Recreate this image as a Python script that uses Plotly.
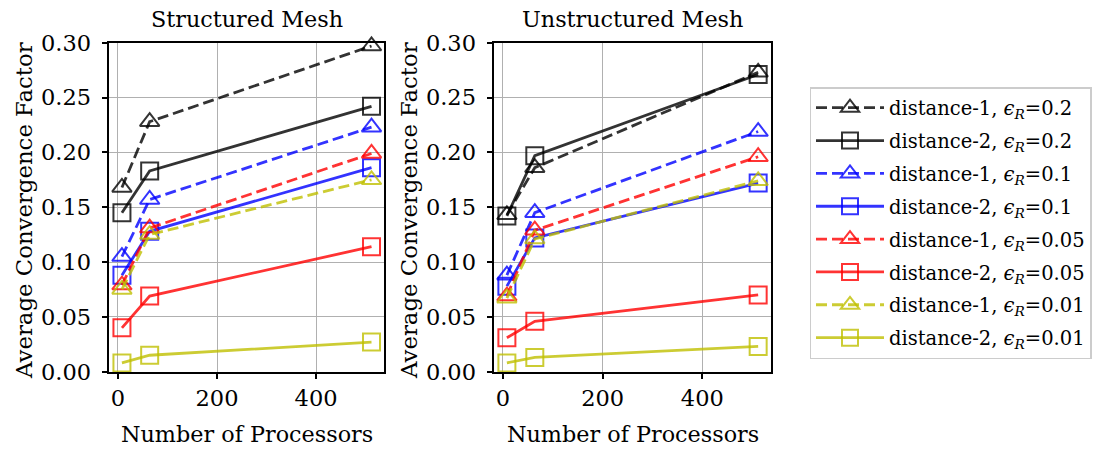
import plotly.graph_objects as go

# Processor counts (x) and average convergence factors per configuration
processors = [8, 64, 512]

labels = [
    "distance-1, <i>ϵ</i><sub><i>R</i></sub>=0.2",
    "distance-2, <i>ϵ</i><sub><i>R</i></sub>=0.2",
    "distance-1, <i>ϵ</i><sub><i>R</i></sub>=0.1",
    "distance-2, <i>ϵ</i><sub><i>R</i></sub>=0.1",
    "distance-1, <i>ϵ</i><sub><i>R</i></sub>=0.05",
    "distance-2, <i>ϵ</i><sub><i>R</i></sub>=0.05",
    "distance-1, <i>ϵ</i><sub><i>R</i></sub>=0.01",
    "distance-2, <i>ϵ</i><sub><i>R</i></sub>=0.01",
]

structured = [
    [0.168, 0.228, 0.297],
    [0.145, 0.183, 0.242],
    [0.105, 0.157, 0.223],
    [0.088, 0.128, 0.186],
    [0.079, 0.131, 0.199],
    [0.040, 0.069, 0.114],
    [0.075, 0.125, 0.175],
    [0.008, 0.015, 0.027],
]

unstructured = [
    [0.143, 0.186, 0.273],
    [0.142, 0.197, 0.271],
    [0.088, 0.145, 0.219],
    [0.078, 0.122, 0.172],
    [0.069, 0.129, 0.196],
    [0.031, 0.046, 0.070],
    [0.067, 0.121, 0.174],
    [0.008, 0.013, 0.023],
]

x_ticks = [0, 200, 400]
y_ticks = [0.00, 0.05, 0.10, 0.15, 0.20, 0.25, 0.30]

colors = [
    "rgba(0,0,0,0.8)", "rgba(0,0,0,0.8)",
    "rgba(0,0,255,0.8)", "rgba(0,0,255,0.8)",
    "rgba(255,0,0,0.8)", "rgba(255,0,0,0.8)",
    "rgba(191,191,0,0.8)", "rgba(191,191,0,0.8)",
]
dashes = ["11px,5px", "solid"] * 4
symbols = ["triangle-up-open", "square-open"] * 4

FONT = "DejaVu Serif"
W, H = 1099, 449
X1 = [0.0996, 0.3494]
X2 = [0.4498, 0.7013]
YD = [0.1722, 0.9049]

fig = go.Figure()

for panel, (data, xa, ya) in enumerate([(structured, "x", "y"), (unstructured, "x2", "y2")]):
    for i, ys in enumerate(data):
        fig.add_trace(go.Scatter(
            x=processors, y=ys, xaxis=xa, yaxis=ya,
            mode="lines+markers", name=labels[i],
            legendgroup=str(i), showlegend=(panel == 0),
            line=dict(color=colors[i], width=2.8, dash=dashes[i]),
            marker=dict(symbol=symbols[i], size=17, color=colors[i],
                        line=dict(color=colors[i], width=2)),
            cliponaxis=False,
        ))

axis_common = dict(
    showline=True, linecolor="black", linewidth=1.6, mirror=True,
    showgrid=True, gridcolor="#b0b0b0", gridwidth=1.4,
    zeroline=False, ticks="outside", ticklen=6, tickwidth=1.6,
    tickcolor="black", automargin=False,
    tickfont=dict(family=FONT, size=22.5, color="black"),
)

x_range = [-17.2, 537.2]
y_range = [0, 0.30]

fig.update_layout(
    width=W, height=H,
    margin=dict(l=0, r=0, t=0, b=0, autoexpand=False),
    paper_bgcolor="white", plot_bgcolor="white",
    font=dict(family=FONT, color="black"),
    xaxis=dict(domain=X1, range=x_range, tickvals=x_ticks,
               anchor="y", **axis_common),
    yaxis=dict(domain=YD, range=y_range, tickvals=y_ticks,
               tickformat=".2f", anchor="x", ticklabelstandoff=6, **axis_common),
    xaxis2=dict(domain=X2, range=x_range, tickvals=x_ticks,
                anchor="y2", **axis_common),
    yaxis2=dict(domain=YD, range=y_range, tickvals=y_ticks,
                tickformat=".2f", anchor="x2", ticklabelstandoff=6, **axis_common),
    legend=dict(
        x=809.5 / W, y=1 - 87 / H, xanchor="left", yanchor="top",
        bgcolor="white", bordercolor="#cccccc", borderwidth=1.5,
        font=dict(family=FONT, size=19.5, color="black"),
        tracegroupgap=4.5, itemwidth=68,
    ),
    showlegend=True,
)

# Panel titles and x-axis labels
annotations = [
    dict(text="Structured Mesh", x=sum(X1) / 2, y=19),
    dict(text="Unstructured Mesh", x=sum(X2) / 2, y=19),
    dict(text="Number of Processors", x=sum(X1) / 2, y=434),
    dict(text="Number of Processors", x=sum(X2) / 2, y=434),
]
for a in annotations:
    fig.add_annotation(text=a["text"], xref="paper", yref="paper",
                       x=a["x"], y=1 - a["y"] / H, xanchor="center",
                       yanchor="middle", showarrow=False,
                       font=dict(family=FONT, size=22.3, color="black"))

# Rotated y-axis labels
for xc in [24, 409]:
    fig.add_annotation(text="Average Convergence Factor", xref="paper", yref="paper",
                       x=xc / W, y=1 - 211 / H, xanchor="center",
                       yanchor="middle", textangle=-90, showarrow=False,
                       font=dict(family=FONT, size=22.8, color="black"))

fig.write_html("out.html")
